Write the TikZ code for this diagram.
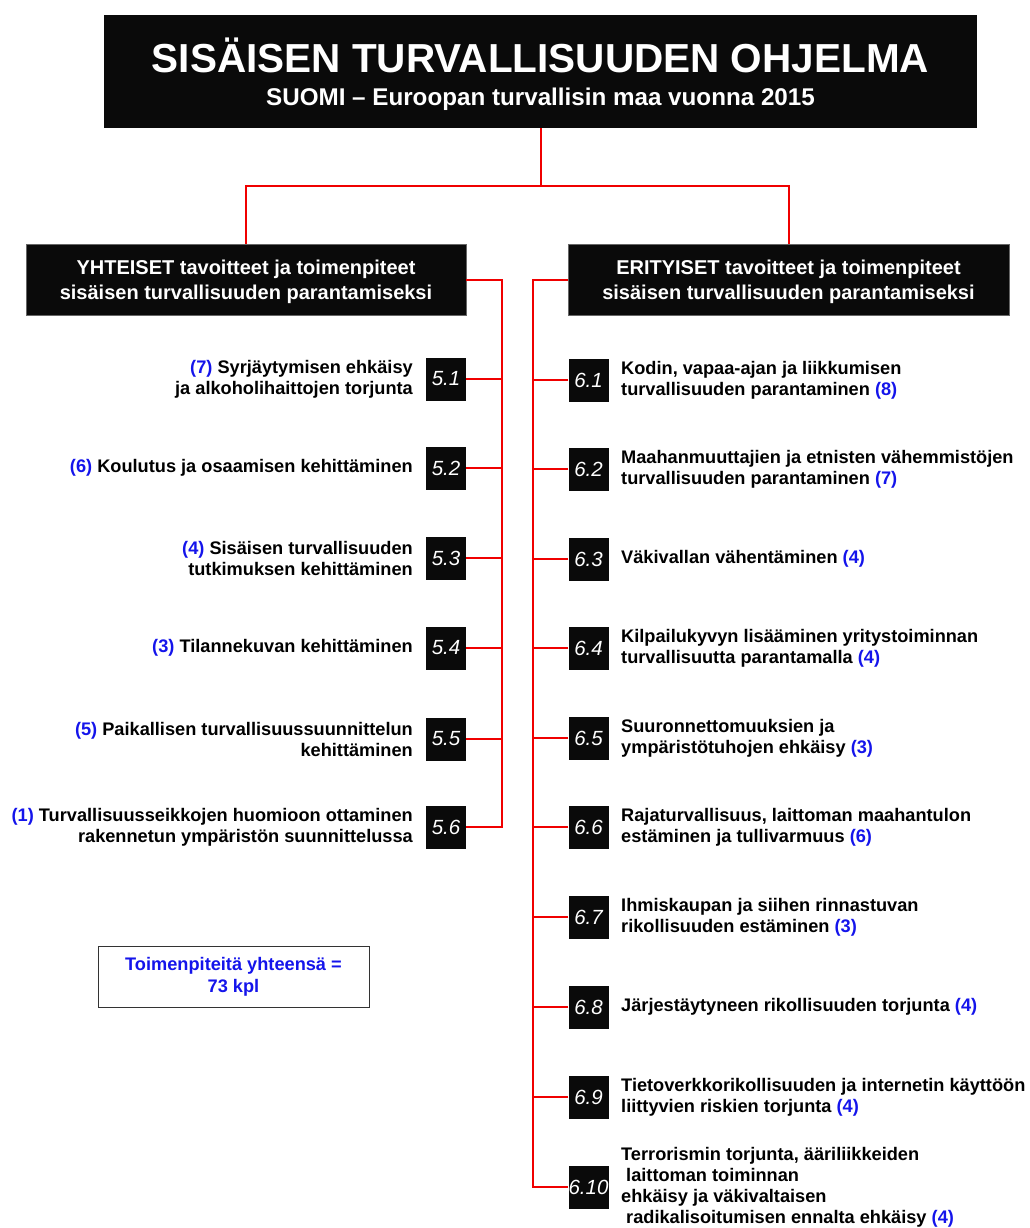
\documentclass[tikz,border=0pt]{standalone}
\usepackage{fontspec}
\setmainfont{Liberation Sans}
\definecolor{cntblue}{RGB}{20,20,235}
\definecolor{boxblack}{RGB}{10,10,10}
\definecolor{linered}{RGB}{240,0,0}
\newcommand\bnum[1]{\textcolor{cntblue}{#1}}
\begin{document}
\begin{tikzpicture}[x=1pt,y=-1pt,
  redline/.style={draw=linered, line width=2pt},
  headbox/.style={fill=boxblack, draw=black!60, line width=0.8pt, minimum width=440pt, minimum height=71pt, inner sep=0pt},
  headtext/.style={text=white, inner sep=0pt, align=center, font=\fontsize{20}{25}\selectfont\bfseries},
  numbox/.style={fill=boxblack, minimum width=40pt, minimum height=43pt, inner sep=0pt, text=white, font=\fontsize{20.5}{24}\selectfont\itshape},
  leftitem/.style={anchor=east, align=right, inner sep=0pt, font=\fontsize{18.2}{21}\selectfont\bfseries},
  rightitem/.style={anchor=west, align=left, inner sep=0pt, font=\fontsize{18.2}{21}\selectfont\bfseries},
]
\useasboundingbox (0,0) rectangle (1029,1228);
% top
\node[fill=boxblack, minimum width=873pt, minimum height=113pt, inner sep=0pt] (top) at (540.5,71.5) {};
\node[text=white, inner sep=0pt, anchor=base, font=\fontsize{40.5}{48}\selectfont\bfseries] (title) at (540.5,73) {SISÄISEN TURVALLISUUDEN OHJELMA};
\node[text=white, inner sep=0pt, anchor=base, font=\fontsize{24.2}{28}\selectfont\bfseries] (subtitle) at (540.5,105.5) {SUOMI – Euroopan turvallisin maa vuonna 2015};
% headers
\node[headbox] (lhead) at (246,279.5) {};
\node[headtext] (lheadtxt) at (246,282) {YHTEISET tavoitteet ja toimenpiteet\\sisäisen turvallisuuden parantamiseksi};
\node[headbox, minimum width=441pt] (rhead) at (788.5,279.5) {};
\node[headtext] (rheadtxt) at (788.5,282) {ERITYISET tavoitteet ja toimenpiteet\\sisäisen turvallisuuden parantamiseksi};
% top connectors
\coordinate (split) at (540.5,186);
\draw[redline] (top.south) -- (split);
\draw[redline] (split) -| (lhead.north);
\draw[redline] (split) -| (rhead.north);
% left numbers
\node[numbox] (n51) at (446,379) {5.1};
\node[numbox] (n52) at (446,468) {5.2};
\node[numbox] (n53) at (446,558) {5.3};
\node[numbox] (n54) at (446,648) {5.4};
\node[numbox] (n55) at (446,739) {5.5};
\node[numbox] (n56) at (446,827) {5.6};
\node[leftitem] (t51) at (413,379) {\bnum{(7)} Syrjäytymisen ehkäisy\\ja alkoholihaittojen torjunta};
\node[leftitem] (t52) at (413,468) {\bnum{(6)} Koulutus ja osaamisen kehittäminen};
\node[leftitem] (t53) at (413,558) {\bnum{(4)} Sisäisen turvallisuuden\\tutkimuksen kehittäminen};
\node[leftitem] (t54) at (413,648) {\bnum{(3)} Tilannekuvan kehittäminen};
\node[leftitem] (t55) at (413,739) {\bnum{(5)} Paikallisen turvallisuussuunnittelun\\kehittäminen};
\node[leftitem] (t56) at (413,827) {\bnum{(1)} Turvallisuusseikkojen huomioon ottaminen\\rakennetun ympäristön suunnittelussa};
% left bus
\coordinate (busL) at (502,279.5);
\draw[redline] (lhead.east) -- (busL) |- (n56.east);
\foreach \k in {51,52,53,54,55}{\draw[redline] (n\k.east) -- (n\k.east -| busL);}
% right numbers
\node[numbox] (n61) at (588.5,380) {6.1};
\node[numbox] (n62) at (588.5,469) {6.2};
\node[numbox] (n63) at (588.5,559) {6.3};
\node[numbox] (n64) at (588.5,648) {6.4};
\node[numbox] (n65) at (588.5,738) {6.5};
\node[numbox] (n66) at (588.5,827) {6.6};
\node[numbox] (n67) at (588.5,917) {6.7};
\node[numbox] (n68) at (588.5,1007) {6.8};
\node[numbox] (n69) at (588.5,1097) {6.9};
\node[numbox] (n610) at (588.5,1187) {6.10};
\node[rightitem] (t61) at (621,380) {Kodin, vapaa-ajan ja liikkumisen\\turvallisuuden parantaminen \bnum{(8)}};
\node[rightitem] (t62) at (621,469) {Maahanmuuttajien ja etnisten vähemmistöjen\\turvallisuuden parantaminen \bnum{(7)}};
\node[rightitem] (t63) at (621,559) {Väkivallan vähentäminen \bnum{(4)}};
\node[rightitem] (t64) at (621,648) {Kilpailukyvyn lisääminen yritystoiminnan\\turvallisuutta parantamalla \bnum{(4)}};
\node[rightitem] (t65) at (621,738) {Suuronnettomuuksien ja\\ympäristötuhojen ehkäisy \bnum{(3)}};
\node[rightitem] (t66) at (621,827) {Rajaturvallisuus, laittoman maahantulon\\estäminen ja tullivarmuus \bnum{(6)}};
\node[rightitem] (t67) at (621,917) {Ihmiskaupan ja siihen rinnastuvan\\rikollisuuden estäminen \bnum{(3)}};
\node[rightitem] (t68) at (621,1007) {Järjestäytyneen rikollisuuden torjunta \bnum{(4)}};
\node[rightitem] (t69) at (621,1097) {Tietoverkkorikollisuuden ja internetin käyttöön\\liittyvien riskien torjunta \bnum{(4)}};
\node[rightitem] (t610) at (621,1187) {Terrorismin torjunta, ääriliikkeiden\\\hspace*{5pt}laittoman toiminnan\\ehkäisy ja väkivaltaisen\\\hspace*{5pt}radikalisoitumisen ennalta ehkäisy \bnum{(4)}};
% right bus
\coordinate (busR) at (533,279.5);
\draw[redline] (rhead.west) -- (busR) |- (n610.west);
\foreach \k in {61,62,63,64,65,66,67,68,69}{\draw[redline] (n\k.west) -- (n\k.west -| busR);}
% total
\node[draw=black!80, line width=1pt, minimum width=271pt, minimum height=61pt, align=center, text=cntblue, font=\fontsize{18.2}{22}\selectfont\bfseries] (total) at (233.5,977) {Toimenpiteitä yhteensä =\\73 kpl};
\end{tikzpicture}
\end{document}
